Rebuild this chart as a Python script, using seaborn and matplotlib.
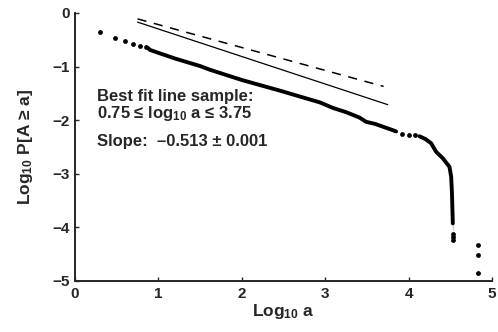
import numpy as np
import pandas as pd
import matplotlib
matplotlib.use("Agg")
import matplotlib.pyplot as plt
import seaborn as sns

# Sparse points at the small-a end (integer a = 2..7)
head_x = [0.30, 0.48, 0.60, 0.70, 0.78, 0.85]
head_y = [-0.35, -0.47, -0.53, -0.58, -0.61, -0.64]

# Dense part of the CCDF (drawn as a thick trace)
body_x = [0.88, 0.90, 1.20, 1.50, 1.62, 2.00, 2.46, 2.70, 2.94, 3.09, 3.25, 3.41, 3.49, 3.60, 3.69, 3.80, 3.85]
body_y = [-0.66, -0.69, -0.85, -0.99, -1.06, -1.25, -1.45, -1.56, -1.67, -1.77, -1.85, -1.95, -2.03, -2.07, -2.12, -2.18, -2.21]

# Gap region dots
gap_x = [3.92, 4.01, 4.08]
gap_y = [-2.26, -2.27, -2.27]

# Cut-off tail
tail_x = [4.13, 4.20, 4.27, 4.33, 4.41, 4.49, 4.51, 4.52, 4.53, 4.53]
tail_y = [-2.30, -2.35, -2.43, -2.59, -2.71, -2.87, -3.05, -3.36, -3.80, -4.05]

# Loose points at the bottom
end_x = [4.53, 4.53, 4.53, 4.83, 4.83, 4.83]
end_y = [-4.12, -4.18, -4.24, -4.33, -4.51, -4.85]

# Reference lines
fit_x = [0.75, 3.75]
fit_y = [-0.17, -1.71]
dash_x = [0.75, 3.70]
dash_y = [-0.11, -1.37]

sns.set_style("ticks")
plt.rcParams["font.family"] = ["Liberation Sans", "DejaVu Sans"]
plt.rcParams["font.weight"] = "bold"
plt.rcParams["mathtext.fontset"] = "custom"
plt.rcParams["mathtext.rm"] = "Liberation Sans:bold"
plt.rcParams["mathtext.it"] = "Liberation Sans:bold"
plt.rcParams["mathtext.bf"] = "Liberation Sans:bold"
plt.rcParams["mathtext.default"] = "rm"

fig = plt.figure(figsize=(4.98, 3.32), dpi=100)
ax = fig.add_axes([75 / 498, 1 - 281 / 332, (492 - 75) / 498, (281 - 13) / 332])

sns.lineplot(x=body_x, y=body_y, ax=ax, color="black", linewidth=2.8, sort=False)
sns.lineplot(x=tail_x, y=tail_y, ax=ax, color="black", linewidth=2.8, sort=False)
sns.scatterplot(x=head_x + gap_x + end_x, y=head_y + gap_y + end_y, ax=ax,
                color="black", s=12, edgecolor=None, linewidth=0)
sns.lineplot(x=fit_x, y=fit_y, ax=ax, color="black", linewidth=0.9)
ax.plot(dash_x, dash_y, color="black", linewidth=1.1, dashes=(6, 5))

ax.text(0.26, -1.55, "Best fit line sample:", fontsize=12, fontweight="bold", va="center")
ax.text(0.26, -1.88, r"0.75 ≤ log$_{10}$ a ≤ 3.75", fontsize=12, fontweight="bold", va="center")
ax.text(0.26, -2.39, "Slope:  \u20130.513 ± 0.001", fontsize=12, fontweight="bold", va="center")

ax.set_xlim(0, 5)
ax.set_ylim(-5, 0)
ax.set_xticks([0, 1, 2, 3, 4, 5])
ax.set_yticks([0, -1, -2, -3, -4, -5])
ax.tick_params(direction="in", length=3, width=1, labelsize=11, pad=4)
for lab in ax.get_xticklabels() + ax.get_yticklabels():
    lab.set_fontweight("bold")
sns.despine(ax=ax)
ax.spines["left"].set_linewidth(1.4)
ax.spines["bottom"].set_linewidth(1.4)

ax.set_xlabel(r"Log$_{10}$ a", fontsize=12.5, fontweight="bold", labelpad=1)
ax.set_ylabel(r"Log$_{10}$ P[A ≥ a]", fontsize=12.5, fontweight="bold", labelpad=12)

fig.savefig("out.png", dpi=100)
